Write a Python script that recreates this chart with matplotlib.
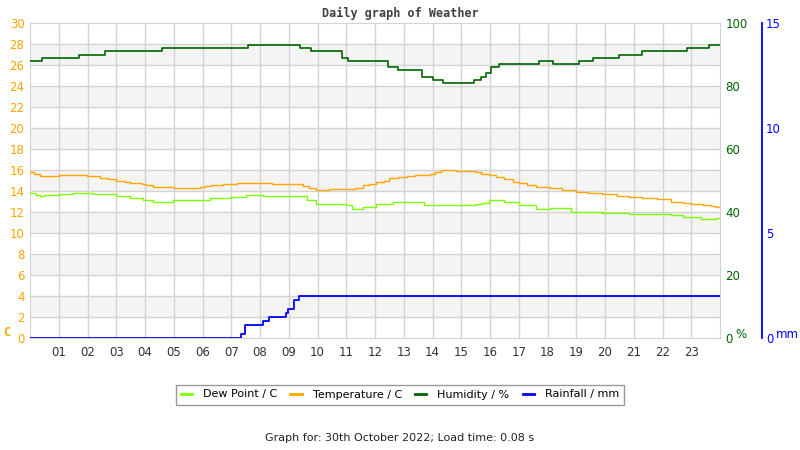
import matplotlib
matplotlib.use("Agg")
import matplotlib.pyplot as plt

# data (hour of day, value)
temp_hours = [0.0, 0.15, 0.34, 1.0, 1.97, 2.43, 2.7, 3.0, 3.3, 3.47, 3.9, 4.05, 4.28, 5.0, 5.9, 6.1, 6.3,
              6.7, 7.2, 8.4, 9.5, 9.7, 9.96, 10.4, 11.3, 11.57, 11.8, 12.04, 12.3, 12.5, 12.8, 13.1, 13.4,
              13.9, 14.1, 14.3, 14.8, 15.5, 15.7, 15.95, 16.2, 16.5, 16.8, 17.0, 17.3, 17.6, 18.07, 18.5,
              19.0, 19.4, 19.9, 20.4, 20.85, 21.3, 21.8, 22.3, 22.7, 23.0, 23.4, 23.7, 23.87, 24.0]
temp_vals = [15.8, 15.6, 15.4, 15.5, 15.4, 15.2, 15.1, 15.0, 14.9, 14.8, 14.7, 14.6, 14.4, 14.3, 14.4, 14.5, 14.6,
             14.7, 14.8, 14.7, 14.5, 14.3, 14.1, 14.2, 14.3, 14.6, 14.7, 14.9, 15.0, 15.2, 15.3, 15.4, 15.5,
             15.6, 15.8, 16.0, 15.9, 15.8, 15.6, 15.5, 15.3, 15.1, 14.9, 14.8, 14.6, 14.4, 14.3, 14.1,
             13.9, 13.8, 13.7, 13.5, 13.4, 13.3, 13.2, 13.0, 12.9, 12.8, 12.7, 12.6, 12.45, 12.45]

dew_hours = [0.0, 0.2, 0.34, 0.5, 1.04, 1.5, 2.2, 3.0, 3.47, 3.93, 4.28, 4.98, 6.25, 6.94, 7.52, 8.1, 8.7,
             9.65, 9.96, 11.0, 11.2, 11.57, 12.04, 12.62, 13.3, 13.7, 14.5, 15.5, 15.7, 15.95, 16.5, 17.0,
             17.6, 18.07, 18.8, 19.9, 20.85, 22.3, 22.7, 23.35, 23.87, 24.0]
dew_vals = [13.8, 13.6, 13.5, 13.6, 13.7, 13.8, 13.7, 13.5, 13.3, 13.15, 13.0, 13.1, 13.3, 13.4, 13.65, 13.55, 13.5,
            13.15, 12.75, 12.65, 12.25, 12.45, 12.8, 13.0, 13.0, 12.7, 12.65, 12.8, 12.9, 13.15, 13.0, 12.65,
            12.3, 12.35, 12.0, 11.95, 11.8, 11.7, 11.55, 11.35, 11.45, 11.45]

hum_hours = [0.0, 0.4, 1.7, 2.6, 4.6, 7.58, 9.38, 9.78, 10.85, 11.05, 12.45, 12.8, 13.63, 14.0, 14.36, 15.44,
             15.69, 15.87, 16.04, 16.33, 17.7, 18.2, 19.08, 19.57, 20.5, 21.27, 22.86, 23.6, 24.0]
hum_vals = [88, 89, 90, 91, 92, 93, 92, 91, 89, 88, 86, 85, 83, 82, 81, 82,
            83, 84, 86, 87, 88, 87, 88, 89, 90, 91, 92, 93, 93]

rain_hours = [0.0, 7.35, 7.47, 8.10, 8.30, 8.92, 8.97, 9.18, 9.35, 24.0]
rain_vals = [0.0, 0.2, 0.6, 0.8, 1.0, 1.2, 1.4, 1.8, 2.0, 2.0]

hour_ticks = list(range(1, 24))
hour_labels = ["%02d" % h for h in hour_ticks]

ORANGE = "#ffa500"
DGREEN = "#006400"
LGREEN = "#7cfc00"
BLUE = "#0000ff"
GRID = "#d3d3d3"

fig = plt.figure(figsize=(8, 4.5), dpi=100)
ax = fig.add_axes([30 / 800, 1 - 338 / 450, 690 / 800, 315 / 450])

# alternating bands + grid
for lo in range(2, 30, 4):
    ax.axhspan(lo, lo + 2, color="#f4f4f4", zorder=0, lw=0)
for y in range(2, 30, 2):
    ax.axhline(y, color=GRID, lw=1, zorder=1)
for h in hour_ticks:
    ax.axvline(h, color=GRID, lw=1, zorder=1)

l_dew, = ax.step(dew_hours, dew_vals, where="post", color=LGREEN, lw=1.0, zorder=3, label="Dew Point / C")
l_temp, = ax.step(temp_hours, temp_vals, where="post", color=ORANGE, lw=1.0, zorder=3, label="Temperature / C")
ax.set_xlim(0, 24)
ax.set_ylim(0, 30)
ax.set_yticks(range(0, 31, 2))
ax.set_xticks(hour_ticks)
ax.set_xticklabels(hour_labels)
ax.tick_params(axis="y", length=0, labelcolor=ORANGE, labelsize=8.5, pad=4)
ax.tick_params(axis="x", length=0, labelcolor="#333333", labelsize=8.5, pad=6)
for s in ax.spines.values():
    s.set_color(GRID)

ax2 = ax.twinx()
l_hum, = ax2.step(hum_hours, hum_vals, where="post", color=DGREEN, lw=1.2, label="Humidity / %")
ax2.set_ylim(0, 100)
ax2.set_yticks(range(0, 101, 20))
ax2.tick_params(axis="y", length=0, labelcolor=DGREEN, labelsize=8.5, pad=4)
for s in ax2.spines.values():
    s.set_visible(False)

ax3 = ax.twinx()
l_rain, = ax3.step(rain_hours, rain_vals, where="post", color=BLUE, lw=1.3, label="Rainfall / mm")
ax3.set_ylim(0, 15)
ax3.set_yticks([0, 5, 10, 15])
for name in ["top", "bottom", "left"]:
    ax3.spines[name].set_visible(False)
ax3.spines["right"].set_position(("axes", 732 / 690))
ax3.spines["right"].set_color(BLUE)
ax3.spines["right"].set_linewidth(1.3)
ax3.tick_params(axis="y", length=0, labelcolor=BLUE, labelsize=8.5, pad=3)

# unit labels
fig.text(3 / 800, 1 - 333 / 450, "C", color=ORANGE, fontsize=8.5, fontweight="bold",
         family="DejaVu Sans Mono", va="center")
fig.text(735 / 800, 1 - 334 / 450, "%", color=DGREEN, fontsize=8.5, va="center")
fig.text(776 / 800, 1 - 335 / 450, "mm", color=BLUE, fontsize=8.5, va="center")

fig.text(0.5, 1 - 13 / 450, "Daily graph of Weather", ha="center", va="center", fontsize=8.5,
         fontweight="bold", family="DejaVu Sans Mono", color="#404040")

leg = fig.legend(handles=[l_dew, l_temp, l_hum, l_rain], loc="center", ncol=4,
                 bbox_to_anchor=(400 / 800, 1 - 394.5 / 450), fontsize=8, frameon=True,
                 fancybox=False, edgecolor="#808080", handlelength=1.0, handletextpad=1.0,
                 columnspacing=1.2, borderpad=0.45)
leg.get_frame().set_linewidth(1)
for ln in leg.get_lines():
    ln.set_linewidth(2)

fig.text(0.5, 1 - 438 / 450, "Graph for: 30th October 2022; Load time: 0.08 s", ha="center",
         va="center", fontsize=8, color="#222222")

fig.savefig("out.png", dpi=100)
